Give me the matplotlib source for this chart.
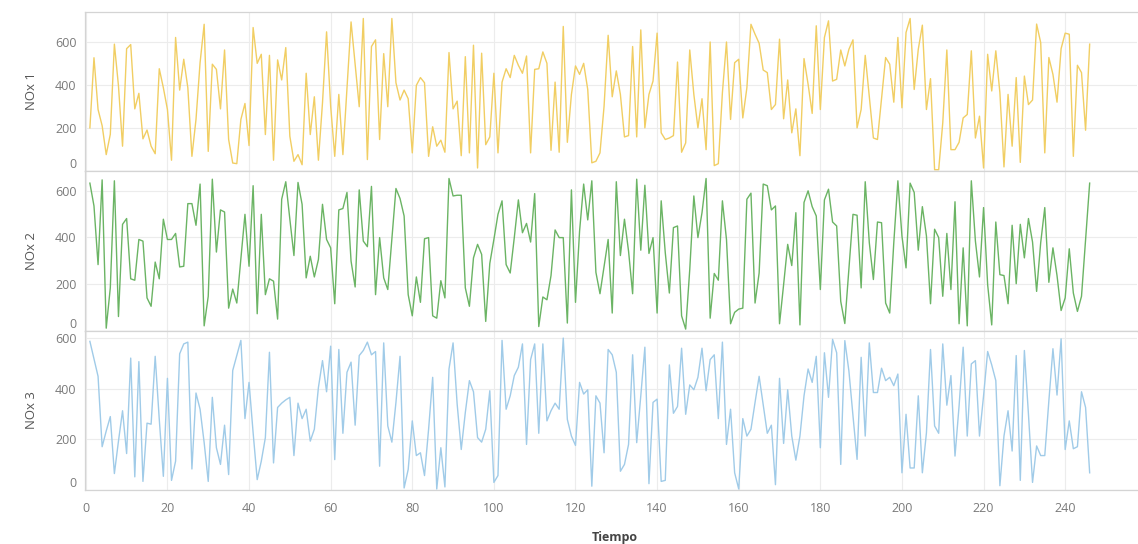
# NOx sensor readings over time — three stacked panels sharing the x axis

import matplotlib
matplotlib.use("Agg")
import matplotlib.pyplot as plt

# ── Data
tiempo = list(range(1, 247))

nox1 = [
    200, 525, 285, 210, 76, 170, 588, 395, 115, 567,
    586, 288, 360, 149, 190, 115, 80, 474, 386, 285,
    50, 619, 375, 518, 386, 68, 239, 502, 680, 91,
    495, 471, 288, 561, 146, 37, 34, 239, 313, 118,
    665, 499, 541, 169, 536, 50, 515, 422, 572, 161,
    45, 76, 29, 453, 169, 344, 50, 316, 645, 300,
    68, 355, 76, 380, 691, 495, 298, 707, 53, 577,
    608, 146, 544, 298, 707, 409, 329, 375, 335, 84,
    397, 433, 409, 68, 205, 115, 143, 87, 549, 288,
    324, 71, 530, 84, 583, 14, 546, 122, 158, 453,
    84, 412, 474, 433, 536, 490, 453, 533, 84, 471,
    474, 552, 499, 96, 412, 87, 670, 133, 355, 487,
    448, 499, 378, 38, 45, 84, 300, 629, 344, 464,
    355, 158, 164, 577, 158, 654, 200, 355, 417, 639,
    177, 146, 153, 164, 505, 87, 130, 561, 355, 200,
    335, 99, 598, 25, 34, 363, 598, 239, 502, 518,
    246, 386, 680, 634, 592, 468, 456, 285, 308, 611,
    242, 422, 177, 288, 71, 521, 402, 267, 673, 285,
    619, 696, 417, 425, 561, 487, 564, 608, 200, 285,
    536, 347, 153, 146, 335, 526, 495, 319, 619, 293,
    642, 707, 378, 564, 676, 285, 428, 6, 6, 223,
    561, 99, 99, 133, 246, 262, 557, 153, 254, 14,
    541, 371, 557, 363, 19, 355, 115, 433, 40, 440,
    308, 329, 681, 595, 84, 526, 448, 319, 567, 639,
    634, 68, 490, 456, 189, 588,
]

nox2 = [
    633, 535, 283, 647, 10, 183, 643, 60, 456, 481,
    222, 216, 391, 384, 140, 104, 294, 222, 478, 391,
    391, 417, 273, 276, 545, 545, 452, 629, 20, 147,
    650, 337, 518, 509, 96, 178, 118, 308, 499, 276,
    622, 72, 499, 154, 222, 212, 49, 564, 639, 478,
    322, 636, 542, 226, 319, 230, 305, 542, 391, 355,
    115, 518, 524, 593, 298, 187, 604, 384, 360, 619,
    154, 399, 226, 176, 391, 610, 567, 492, 154, 63,
    230, 121, 394, 399, 63, 53, 214, 140, 653, 578,
    581, 581, 183, 104, 312, 370, 327, 39, 288, 391,
    499, 557, 283, 247, 399, 561, 420, 460, 380, 588,
    17, 144, 132, 236, 432, 399, 399, 32, 604, 121,
    427, 629, 475, 643, 250, 158, 276, 391, 75, 639,
    322, 478, 341, 158, 650, 345, 624, 331, 399, 75,
    557, 334, 161, 442, 449, 63, 6, 262, 578, 399,
    506, 653, 53, 245, 216, 557, 391, 29, 78, 92,
    96, 564, 590, 118, 247, 629, 622, 518, 535, 29,
    197, 370, 279, 506, 24, 550, 600, 532, 492, 176,
    561, 607, 466, 449, 125, 30, 265, 499, 495, 183,
    639, 377, 219, 466, 463, 118, 75, 377, 643, 406,
    269, 633, 593, 345, 532, 406, 115, 435, 399, 147,
    417, 176, 553, 29, 355, 20, 643, 384, 230, 528,
    197, 24, 466, 240, 236, 115, 452, 201, 456, 312,
    481, 380, 168, 377, 528, 207, 355, 236, 86, 140,
    351, 161, 82, 147, 391, 633,
]

nox3 = [
    587, 518, 449, 171, 233, 290, 65, 193, 313, 144,
    521, 52, 507, 34, 264, 260, 528, 279, 54, 441,
    38, 114, 538, 577, 584, 83, 383, 319, 187, 34,
    366, 167, 101, 256, 61, 472, 531, 591, 282, 425,
    226, 41, 114, 207, 544, 107, 326, 343, 356, 366,
    136, 343, 282, 319, 193, 240, 405, 511, 388, 568,
    120, 555, 224, 465, 505, 256, 531, 551, 584, 534,
    547, 94, 581, 253, 189, 346, 528, 8, 81, 273,
    136, 147, 57, 240, 445, 4, 167, 12, 478, 581,
    339, 160, 306, 432, 388, 207, 189, 240, 392, 30,
    57, 591, 319, 372, 452, 485, 577, 180, 515, 577,
    224, 577, 273, 313, 343, 319, 600, 279, 213, 176,
    425, 379, 396, 15, 372, 343, 147, 555, 534, 465,
    74, 101, 180, 534, 187, 372, 564, 25, 346, 359,
    34, 38, 494, 303, 330, 560, 299, 415, 396, 445,
    560, 392, 515, 534, 282, 584, 180, 319, 68, 4,
    282, 213, 240, 346, 449, 335, 224, 256, 21, 441,
    184, 396, 213, 118, 213, 372, 478, 425, 528, 167,
    542, 366, 595, 542, 101, 590, 470, 293, 121, 524,
    213, 581, 385, 385, 481, 432, 445, 412, 458, 68,
    299, 87, 87, 372, 68, 226, 555, 253, 224, 577,
    335, 452, 134, 332, 564, 213, 498, 511, 213, 372,
    547, 494, 432, 17, 213, 313, 154, 531, 38, 551,
    299, 30, 174, 136, 136, 352, 558, 375, 597, 160,
    273, 163, 171, 388, 326, 68,
]

series = [("NOx 1", nox1, "#F1CE63", 737),
          ("NOx 2", nox2, "#6BB464", 683),
          ("NOx 3", nox3, "#A0CBE8", 628)]

x_ticks = list(range(0, 241, 20))
y_ticks = [0, 200, 400, 600]

# ── Figure / layout (pixel based, 1138 x 544)
W, H = 1138, 544
fig = plt.figure(figsize=(W / 100, H / 100), dpi=100)
plt.rcParams["font.family"] = ["Open Sans", "DejaVu Sans"]

left_px, right_px = 85, 1137
panel_tops = [12, 171.5, 331]
panel_h = 159

GRID = "#ececec"
BORDER = "#d4d4d4"
TICK = "#7a7a7a"

axes = []
for k, (name, vals, color, ymax) in enumerate(series):
    top = panel_tops[k]
    ax = fig.add_axes([left_px / W, 1 - (top + panel_h) / H,
                       (right_px - left_px) / W, panel_h / H])
    ax.plot(tiempo, vals, color=color, linewidth=1.0, zorder=3)

    ax.set_xlim(-0.2, 257.6)
    ax.set_ylim(0, ymax)
    ax.set_xticks(x_ticks)
    ax.set_yticks(y_ticks)

    ax.grid(True, color=GRID, linewidth=0.8, zorder=0)
    ax.set_axisbelow(True)

    for side in ["top", "left", "bottom"]:
        ax.spines[side].set_color(BORDER)
        ax.spines[side].set_linewidth(0.9)
    ax.spines["right"].set_visible(False)

    ax.tick_params(axis="y", length=0, pad=6, labelsize=9, labelcolor=TICK)
    ax.tick_params(axis="x", length=0, pad=9, labelsize=9, labelcolor=TICK)

    # zero label sits just above the panel floor
    for lbl in ax.get_yticklabels():
        if lbl.get_text() in ("0", "−0"):
            lbl.set_verticalalignment("bottom")

    ax.set_ylabel(name, fontsize=9.5, color="#555555")
    ax.yaxis.set_label_coords(-0.045, 0.5)

    if k < 2:
        ax.tick_params(axis="x", labelbottom=False)
    axes.append(ax)

axes[-1].set_xlabel("Tiempo", fontsize=9, color="#444444", fontweight="bold")
axes[-1].xaxis.set_label_coords(0.504, -0.255)

plt.savefig("out.png", dpi=100)
plt.close()
